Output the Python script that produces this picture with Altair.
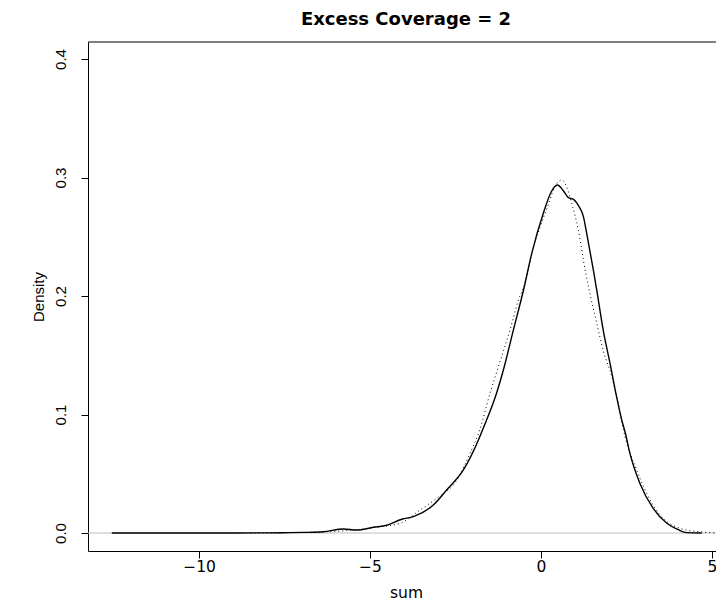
import altair as alt
import pandas as pd

# Solid curve (kernel density estimate)
solid_x = [-12.55, -10.0, -8.0, -7.4, -6.9, -6.37, -5.78, -5.39, -4.90, -4.51, -4.07, -3.73,
           -3.15, -2.76, -2.27, -1.83, -1.69, -1.30, -1.10, -0.81, -0.52, -0.27, 0.07, 0.30,
           0.48, 0.65, 0.80, 0.95, 1.10, 1.24, 1.335, 1.53, 1.63, 1.82, 2.02, 2.21, 2.36,
           2.46, 2.60, 2.89, 3.28, 3.68, 4.00, 4.26, 4.70]
solid_y = [0.0, 0.0, 0.0001, 0.0003, 0.0005, 0.0010, 0.0034, 0.0025, 0.0048, 0.0065, 0.0116, 0.0138,
           0.0236, 0.0363, 0.0532, 0.0785, 0.0884, 0.118, 0.1376, 0.171, 0.204, 0.236, 0.270, 0.288,
           0.2937, 0.289, 0.283, 0.2816, 0.276, 0.267, 0.253, 0.222, 0.205, 0.171, 0.143, 0.115, 0.0954,
           0.085, 0.0672, 0.042, 0.0208, 0.0082, 0.003, 0.0003, 0.0]

# Dotted curve
dotted_x = [-8.5, -7.5, -6.5, -5.68, -4.71, -4.12, -3.54, -3.05, -2.46, -2.08, -1.78, -1.49,
            -1.25, -0.91, -0.66, -0.47, -0.22, -0.03, 0.2, 0.4, 0.605, 0.75, 0.9, 1.09, 1.29,
            1.43, 1.63, 1.82, 2.07, 2.26, 2.41, 2.80, 3.09, 3.48, 4.06, 4.65, 5.23]
dotted_y = [0.0, 0.0003, 0.0008, 0.0020, 0.0053, 0.0082, 0.0194, 0.0293, 0.0447, 0.067, 0.088, 0.118,
            0.140, 0.171, 0.1966, 0.2107, 0.2416, 0.258, 0.276, 0.292, 0.298, 0.292, 0.278, 0.256, 0.222,
            0.202, 0.177, 0.154, 0.132, 0.109, 0.087, 0.053, 0.0335, 0.0152, 0.004, 0.001, 0.0]

x_ticks = [-10, -5, 0, 5]
y_ticks = [0.0, 0.1, 0.2, 0.3, 0.4]

W, H = 628, 509
HFONT = "DejaVu Sans"
VFONT = "Liberation Sans"

solid_df = pd.DataFrame({"x": solid_x, "y": solid_y})
dotted_df = pd.DataFrame({"x": dotted_x, "y": dotted_y})

xscale = alt.Scale(domain=[-13.246, 5.117], nice=False, zero=False)
yscale = alt.Scale(domain=[-0.01519, 0.41435], nice=False, zero=False)

xaxis = alt.Axis(values=x_ticks, title="sum", grid=False, domainColor="black", tickColor="black",
                 tickSize=7, labelPadding=1, labelFontSize=15.5, labelColor="black", labelFont=HFONT,
                 titleFont=HFONT, titleFontSize=15.5, titleFontWeight="normal", titleColor="black",
                 titleX=318, titleY=41, titleBaseline="middle", titleAlign="center", format="d")
yaxis = alt.Axis(values=y_ticks, title="Density", grid=False, domainColor="black", tickColor="black",
                 tickSize=7, labelAngle=-90, labelAlign="center", labelBaseline="middle",
                 labelPadding=21, labelFontSize=15, labelColor="black", labelFont=VFONT, format=".1f",
                 titleFont=VFONT, titleFontSize=15, titleFontWeight="normal", titleColor="black",
                 titleAngle=-90, titleX=-50, titleY=H / 2, titleBaseline="middle", titleAlign="center")

zero = alt.Chart(pd.DataFrame({"z": [0]})).mark_rule(color="#bebebe", strokeWidth=1).encode(
    y=alt.Y("z:Q", scale=yscale, axis=yaxis))

solid = alt.Chart(solid_df).mark_line(color="black", strokeWidth=1.4, interpolate="monotone", clip=True).encode(
    x=alt.X("x:Q", scale=xscale, axis=xaxis),
    y=alt.Y("y:Q", scale=yscale, axis=yaxis))

dotted = alt.Chart(dotted_df).mark_line(color="black", strokeWidth=1, strokeDash=[1, 3],
                                        interpolate="monotone", clip=True).encode(
    x=alt.X("x:Q", scale=xscale, axis=xaxis),
    y=alt.Y("y:Q", scale=yscale, axis=yaxis))

top = alt.Chart(pd.DataFrame({"t": [1]})).mark_rule(color="black", strokeWidth=1).encode(
    y=alt.value(0))

chart = alt.layer(zero, dotted, solid, top).properties(
    width=W, height=H,
    autosize=alt.AutoSizeParams(type="none"),
    padding={"left": 80, "top": 34, "right": 0, "bottom": 50},
    title=alt.TitleParams("Excess Coverage = 2", font=HFONT, fontSize=18, fontWeight="bold",
                          color="black", anchor="middle", offset=12.5, dx=4),
).configure_view(stroke=None)

chart.save("out.html", embed_options={"renderer": "svg", "actions": False})
